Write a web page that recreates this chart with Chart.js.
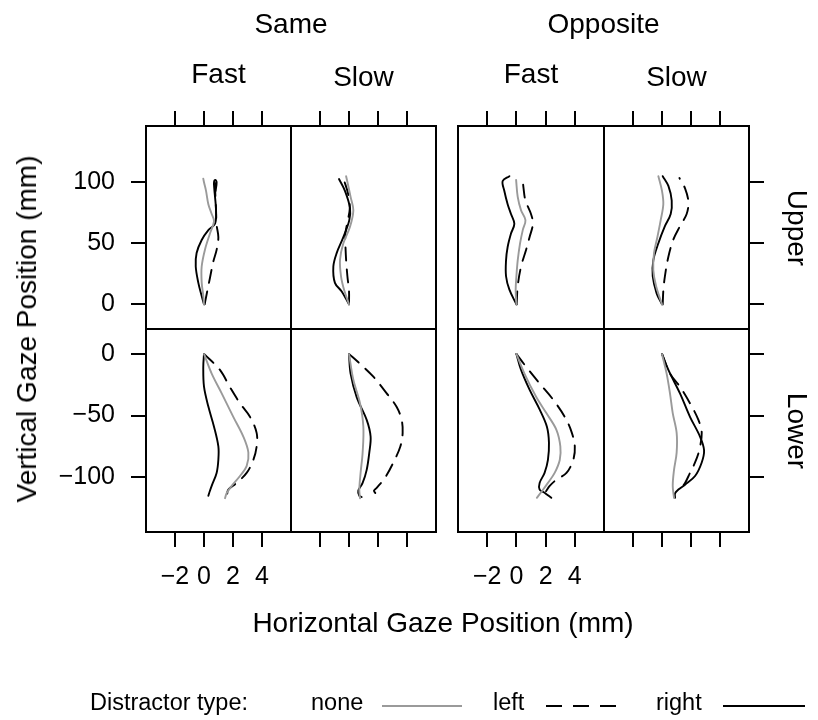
<!DOCTYPE html>
<html>
<head>
<meta charset="utf-8">
<title>Gaze trajectories</title>
<script src="https://cdn.jsdelivr.net/npm/chart.js@4.4.0/dist/chart.umd.min.js"></script>
<style>
  html, body { margin: 0; padding: 0; background: #fff; }
  #page { position: relative; width: 818px; height: 720px; overflow: hidden;
          font-family: "Liberation Sans", Arial, sans-serif; color: #000; }
  #page canvas { position: absolute; left: 0; top: 0; }
  .lbl { position: absolute; white-space: nowrap; line-height: 1; transform: translate(-50%, -50%); }
  .lft { position: absolute; white-space: nowrap; line-height: 1; transform: translate(0, -50%); }
  #legendMarks { position: absolute; left: 0; top: 0; }
</style>
</head>
<body>
<div id="page"></div>
<script>
// ---- facet levels and tick labels ----
const directions = ['Same', 'Opposite'];
const speeds = ['Fast', 'Slow'];
const targets = ['Upper', 'Lower'];
const distractors = ['none', 'left', 'right'];
const xTicks = [-2, 0, 2, 4];
const yTicksUpper = [0, 50, 100];
const yTicksLower = [-100, -50, 0];

// ---- mean gaze trajectories: [horizontal mm, vertical mm] ----
const sameFastUpperNone  = [[0,0],[-0.05,7],[-0.16,18],[-0.16,31],[0.07,45],[0.41,58],[0.69,68],[0.53,74],[0.3,82],[0.14,93],[0,100],[-0.05,103]];
const sameFastUpperLeft  = [[0.05,0],[0.11,4],[0.41,21.6],[0.64,35],[0.87,44.6],[0.99,55],[0.87,65],[0.83,77],[0.78,90.5],[0.76,101]];
const sameFastUpperRight = [[0,0],[-0.16,6.8],[-0.39,17.6],[-0.57,31],[-0.51,42],[-0.16,52.7],[0.3,60.8],[0.76,66],[0.83,77],[0.76,88],[0.71,94.6],[0.69,100],[0.78,102],[0.87,100],[0.8,93]];

const sameSlowUpperNone  = [[0,0],[-0.34,12],[-0.55,23],[-0.62,36.5],[-0.39,50],[0.07,63.5],[0.3,77],[0.11,88],[-0.05,97],[-0.2,105]];
const sameSlowUpperLeft  = [[0,0],[0,11],[-0.11,23],[-0.2,36.5],[-0.25,50],[-0.25,58],[-0.1,68],[0.05,78],[-0.05,90],[-0.3,100],[-0.45,104]];
const sameSlowUpperRight = [[0,0],[-0.5,10.5],[-0.97,17.6],[-1.08,31],[-0.85,42],[-0.39,55],[0.02,69],[0.07,79],[-0.28,93],[-0.69,102.7]];

const oppFastUpperNone  = [[0,0],[-0.05,12],[0,23],[0.09,36],[0.25,50],[0.44,61],[0.62,69],[0.32,77],[0.09,88],[-0.02,102]];
const oppFastUpperLeft  = [[0.02,0],[0.09,15],[0.32,31],[0.67,45],[0.9,55],[1.13,66],[1.0,74],[0.62,85],[0.48,96],[0.45,100]];
const oppFastUpperRight = [[0,0],[-0.48,12],[-0.71,23],[-0.71,36],[-0.6,47],[-0.37,58],[-0.14,66],[-0.37,74],[-0.6,82],[-0.83,93],[-0.94,101],[-0.48,105]];

const oppSlowUpperNone  = [[0,0],[-0.41,15],[-0.6,28],[-0.55,42],[-0.32,55],[-0.09,69],[0.09,82],[0,93],[-0.25,105]];
const oppSlowUpperLeft  = [[0.05,0],[0.09,11],[0.2,23],[0.44,39],[0.78,53],[1.24,64],[1.7,74],[1.82,84],[1.59,95],[1.2,103.5]];
const oppSlowUpperRight = [[0,0],[-0.37,9],[-0.64,23],[-0.6,36],[-0.25,50],[0.2,64],[0.6,74],[0.67,85],[0.44,97],[0.05,105]];

const sameFastLowerNone  = [[0,0],[0.53,-16],[1.22,-32],[2.02,-51],[2.71,-67],[3.06,-80],[2.94,-91],[2.48,-99],[1.91,-107],[1.56,-113],[1.45,-117]];
const sameFastLowerLeft  = [[0,0],[1.1,-13],[1.79,-27],[2.48,-40],[3.17,-51],[3.63,-64],[3.63,-75],[3.4,-86],[2.94,-96.5],[2.25,-104.6],[1.68,-110],[1.61,-114],[1.75,-116]];
const sameFastLowerRight = [[0,0],[-0.05,-10.5],[0,-26.6],[0.3,-42.7],[0.69,-59],[0.99,-75],[0.99,-85.8],[0.87,-96.5],[0.53,-107],[0.41,-111],[0.3,-115]];

const sameSlowLowerNone  = [[0,0],[0.3,-21],[0.76,-40],[0.99,-59],[0.94,-80],[0.8,-96.5],[0.71,-110],[0.76,-117]];
const sameSlowLowerLeft  = [[0,0],[0.76,-8],[1.68,-18.5],[2.6,-32],[3.29,-43],[3.63,-53.5],[3.7,-64],[3.54,-75],[3.06,-88],[2.48,-100.5],[1.91,-108.6],[1.72,-111],[1.91,-114]];
const sameSlowLowerRight = [[0,0],[0.11,-16],[0.53,-35],[1.22,-53.5],[1.49,-67],[1.4,-80],[1.22,-94],[0.94,-104.6],[0.64,-111],[0.71,-115],[0.87,-116]];

const oppFastLowerNone  = [[0,0],[0.55,-16],[1.36,-35],[2.05,-48],[2.74,-61.5],[3.01,-75],[2.97,-86],[2.62,-96.5],[2.16,-104.6],[1.77,-111],[1.4,-116.7]];
const oppFastLowerLeft  = [[0,0],[0.67,-10.5],[1.59,-24],[2.51,-37],[3.31,-51],[3.77,-63],[4.0,-75],[3.89,-86],[3.43,-96.5],[2.74,-102],[2.28,-107],[2.05,-111],[1.93,-113]];
const oppFastLowerRight = [[0,0],[0.32,-13],[0.9,-29],[1.59,-45],[2.09,-59],[2.23,-72],[2.16,-86],[1.93,-96.5],[1.59,-104.6],[1.59,-110],[1.93,-112.6],[2.39,-116.7]];

const oppSlowLowerNone  = [[0,0],[0.32,-16],[0.55,-32],[0.74,-48],[1.01,-64],[1.01,-80],[0.83,-94],[0.74,-107],[0.83,-116.7]];
const oppSlowLowerLeft  = [[0,0],[0.55,-16],[1.24,-26.6],[1.93,-40],[2.51,-53.5],[2.74,-64],[2.57,-78],[2.28,-88],[1.93,-96.5],[1.59,-104.6],[1.24,-110]];
const oppSlowLowerRight = [[0,0],[0.44,-13],[1.24,-32],[1.93,-51],[2.62,-67],[2.9,-78],[2.74,-88],[2.28,-99],[1.59,-106],[1.13,-110],[0.9,-113],[0.9,-116.7]];

// panel grid: columns are direction x speed, rows are target position
const panelSeries = [
  [ [sameFastUpperNone, sameFastUpperLeft, sameFastUpperRight],
    [sameSlowUpperNone, sameSlowUpperLeft, sameSlowUpperRight],
    [oppFastUpperNone,  oppFastUpperLeft,  oppFastUpperRight],
    [oppSlowUpperNone,  oppSlowUpperLeft,  oppSlowUpperRight] ],
  [ [sameFastLowerNone, sameFastLowerLeft, sameFastLowerRight],
    [sameSlowLowerNone, sameSlowLowerLeft, sameSlowLowerRight],
    [oppFastLowerNone,  oppFastLowerLeft,  oppFastLowerRight],
    [oppSlowLowerNone,  oppSlowLowerLeft,  oppSlowLowerRight] ]
];

// ---- layout ----
const W = 818, H = 720;
const COLS = [[146, 291], [291, 436], [458, 604], [604, 749]];
const ROWS = [[126, 329], [329, 532]];
const X_RANGE = [-4, 6];
const Y_RANGES = [[-20.2, 146.1], [-144.4, 20.2]];
const FONT = '"Liberation Sans", Arial, sans-serif';
// fixed room reserved for each axis box (ticks + labels)
const AXIS_SIZE = { left: 100, right: 60, top: 60, bottom: 70 };

const lineStyles = {
  none:  { color: '#9a9a9a', dash: [] },
  left:  { color: '#000000', dash: [13, 9] },
  right: { color: '#000000', dash: [] }
};

const page = document.getElementById('page');

const panelBox = {
  id: 'panelBox',
  afterDraw(chart) {
    const { ctx, chartArea: a } = chart;
    ctx.save();
    ctx.strokeStyle = '#000';
    ctx.lineWidth = 2;
    ctx.strokeRect(a.left, a.top, a.right - a.left, a.bottom - a.top);
    ctx.restore();
  }
};

const fmt = v => String(v).replace('-', '\u2212');

function axis(position, range, ticks, showMarks, showLabels, pad) {
  const size = AXIS_SIZE[position];
  return {
    type: 'linear',
    position,
    min: range[0],
    max: range[1],
    afterFit: s => { if (s.isHorizontal()) s.height = size; else s.width = size; },
    afterBuildTicks: s => { s.ticks = ticks.map(v => ({ value: v })); },
    border: { display: false },
    grid: { display: true, drawOnChartArea: false, drawTicks: showMarks,
            tickLength: 15, color: '#000', lineWidth: 2 },
    ticks: { display: showLabels, autoSkip: false, maxRotation: 0, minRotation: 0,
             padding: pad, color: '#000', font: { family: FONT, size: 25 },
             callback: fmt }
  };
}

function drawPanel(col, row) {
  const [x0, x1] = COLS[col];
  const [y0, y1] = ROWS[row];
  const canvas = document.createElement('canvas');
  canvas.width = W; canvas.height = H;
  page.appendChild(canvas);

  const yTicks = row === 0 ? yTicksUpper : yTicksLower;
  const datasets = distractors.map((d, i) => ({
    label: d,
    data: panelSeries[row][col][i].map(([x, y]) => ({ x, y })),
    showLine: true,
    pointRadius: 0,
    borderColor: lineStyles[d].color,
    borderDash: lineStyles[d].dash,
    borderWidth: 1.9,
    borderCapStyle: 'round',
    borderJoinStyle: 'round',
    tension: 0.35,
    fill: false,
    xAxisID: 'xb',
    yAxisID: 'yl'
  }));

  new Chart(canvas, {
    type: 'scatter',
    data: { datasets },
    options: {
      responsive: false,
      animation: false,
      events: [],
      layout: { padding: {
        left: x0 - AXIS_SIZE.left,
        right: W - x1 - AXIS_SIZE.right,
        top: y0 - AXIS_SIZE.top,
        bottom: H - y1 - AXIS_SIZE.bottom
      } },
      plugins: { legend: { display: false }, tooltip: { enabled: false } },
      scales: {
        xb: axis('bottom', X_RANGE, xTicks, row === 1, row === 1 && col % 2 === 0, 15),
        xt: axis('top', X_RANGE, xTicks, row === 0, false, 4),
        yl: axis('left', Y_RANGES[row], yTicks, col === 0, col === 0, 16),
        yr: axis('right', Y_RANGES[row], yTicks, col === 3, false, 4)
      }
    },
    plugins: [panelBox]
  });
}

for (let r = 0; r < 2; r++) for (let c = 0; c < 4; c++) drawPanel(c, r);

// ---- text: strips, axis titles, legend ----
function addText(text, x, y, size, cls, rotate) {
  const el = document.createElement('div');
  el.className = cls || 'lbl';
  el.textContent = text;
  el.style.left = x + 'px';
  el.style.top = y + 'px';
  el.style.fontSize = size + 'px';
  if (rotate) el.style.transform = 'translate(-50%, -50%) rotate(' + rotate + 'deg)';
  page.appendChild(el);
}

directions.forEach((d, i) => {
  const cx = (COLS[2 * i][0] + COLS[2 * i + 1][1]) / 2;
  addText(d, cx, 24, 28);
  speeds.forEach((s, j) => {
    const [a, b] = COLS[2 * i + j];
    addText(s, (a + b) / 2, j === 0 ? 74 : 77, 28);
  });
});
targets.forEach((t, r) => {
  addText(t, 797, (ROWS[r][0] + ROWS[r][1]) / 2, 28, 'lbl', 90);
});
addText('Vertical Gaze Position (mm)', 27, 329, 28, 'lbl', -90);
addText('Horizontal Gaze Position (mm)', 443, 623, 28);

// legend
addText('Distractor type:', 90, 703, 23.5, 'lft');
const legendItems = [
  { name: 'none',  textX: 311, x1: 382, x2: 462 },
  { name: 'left',  textX: 493, x1: 546, x2: 617 },
  { name: 'right', textX: 656, x1: 723, x2: 805 }
];
const svgNS = 'http://www.w3.org/2000/svg';
const svg = document.createElementNS(svgNS, 'svg');
svg.setAttribute('id', 'legendMarks');
svg.setAttribute('width', W);
svg.setAttribute('height', H);
legendItems.forEach(it => {
  addText(it.name, it.textX, 703, 23.5, 'lft');
  const st = lineStyles[it.name];
  const ln = document.createElementNS(svgNS, 'line');
  ln.setAttribute('x1', it.x1); ln.setAttribute('x2', it.x2);
  ln.setAttribute('y1', 706); ln.setAttribute('y2', 706);
  ln.setAttribute('stroke', st.color);
  ln.setAttribute('stroke-width', 2);
  if (st.dash.length) ln.setAttribute('stroke-dasharray', '16 11');
  svg.appendChild(ln);
});
page.appendChild(svg);
</script>
</body>
</html>
